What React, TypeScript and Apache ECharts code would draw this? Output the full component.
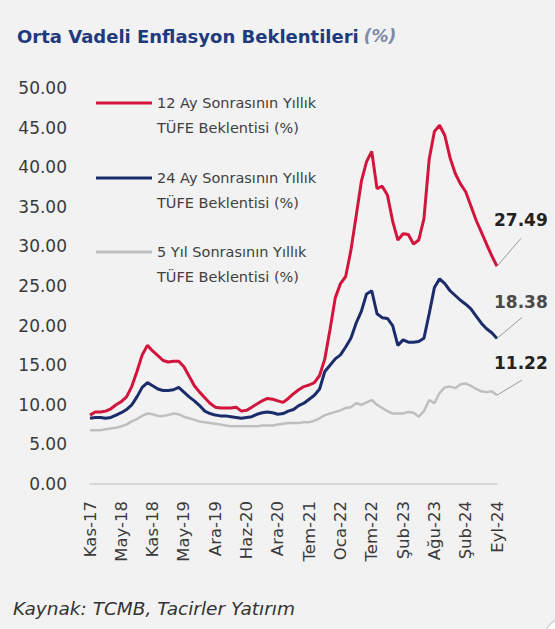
import React, { useEffect, useRef } from "react";
import * as echarts from "echarts";

const tickLabels = ["Kas-17", "May-18", "Kas-18", "May-19", "Ara-19", "Haz-20", "Ara-20", "Tem-21", "Oca-22", "Tem-22", "Şub-23", "Ağu-23", "Şub-24", "Eyl-24"];
const pointsPerTick = 6;
const categories = Array.from({ length: (tickLabels.length - 1) * pointsPerTick + 1 }, (_, i) => String(i));

const seriesNames = [
  "12 Ay Sonrasının Yıllık\nTÜFE Beklentisi (%)",
  "24 Ay Sonrasının Yıllık\nTÜFE Beklentisi (%)",
  "5 Yıl Sonrasının Yıllık\nTÜFE Beklentisi (%)",
];

const exp12m = [
  8.7, 9.1, 9.1, 9.2, 9.5, 10.0, 10.4, 11.0, 12.3, 14.2, 16.3, 17.5, 16.8, 16.2, 15.6, 15.4, 15.5, 15.5, 14.8, 13.6,
  12.4, 11.6, 10.9, 10.2, 9.7, 9.6, 9.6, 9.6, 9.7, 9.2, 9.3, 9.7, 10.1, 10.5, 10.8, 10.7, 10.5, 10.3, 10.8, 11.4,
  11.9, 12.3, 12.5, 12.8, 13.7, 15.8, 19.5, 23.5, 25.3, 26.2, 29.5, 33.8, 38.2, 40.7, 42.0, 37.3, 37.6, 36.5, 33.2, 30.8,
  31.6, 31.5, 30.3, 30.8, 33.5, 41.0, 44.5, 45.3, 44.0, 41.2, 39.2, 37.9, 36.9, 35.1, 33.3, 31.8, 30.3, 28.8, 27.49,
];
const exp24m = [
  8.3, 8.4, 8.4, 8.3, 8.4, 8.7, 9.0, 9.4, 10.0, 11.0, 12.2, 12.8, 12.4, 12.0, 11.8, 11.8, 11.9, 12.2, 11.6, 11.0,
  10.5, 9.9, 9.2, 8.9, 8.7, 8.6, 8.6, 8.5, 8.4, 8.3, 8.4, 8.5, 8.8, 9.0, 9.1, 9.0, 8.8, 8.9, 9.2, 9.4,
  9.9, 10.2, 10.7, 11.2, 12.0, 14.2, 15.0, 15.8, 16.3, 17.3, 18.4, 20.3, 21.8, 24.0, 24.4, 21.5, 21.0, 20.9, 20.0, 17.5,
  18.2, 17.9, 17.9, 18.0, 18.4, 21.5, 24.8, 25.9, 25.3, 24.4, 23.8, 23.2, 22.7, 22.1, 21.2, 20.3, 19.6, 19.1, 18.38,
];
const exp5y = [
  6.8, 6.8, 6.8, 6.9, 7.0, 7.1, 7.3, 7.5, 7.9, 8.2, 8.6, 8.9, 8.8, 8.6, 8.6, 8.7, 8.9, 8.8, 8.5, 8.3,
  8.1, 7.9, 7.8, 7.7, 7.6, 7.5, 7.4, 7.3, 7.3, 7.3, 7.3, 7.3, 7.3, 7.4, 7.4, 7.4, 7.5, 7.6, 7.7, 7.7,
  7.7, 7.8, 7.8, 8.0, 8.3, 8.7, 8.9, 9.1, 9.3, 9.6, 9.7, 10.2, 10.0, 10.3, 10.6, 10.0, 9.6, 9.2, 8.9, 8.9,
  8.9, 9.1, 9.0, 8.5, 9.2, 10.6, 10.2, 11.5, 12.2, 12.3, 12.1, 12.6, 12.7, 12.4, 12.0, 11.7, 11.6, 11.7, 11.22,
];

const colors = ["#d3143c", "#1b2c6b", "#bfbfbf"];
const endLabelColors = ["#222222", "#4a4a4a", "#222222"];
const BG = "#f2f2f2";
const FONT = '"DejaVu Sans", sans-serif';

export default function App() {
  const ref = useRef<HTMLDivElement>(null);
  useEffect(() => {
    if (!ref.current) return;
    const chart = echarts.init(ref.current, undefined, { renderer: "svg" });
    const allSeries = [exp12m, exp24m, exp5y];
    const legendTops = [103, 178, 252];
    // label / leader offsets relative to each series' last point
    const labelDy = [-46, -36, -32];
    const leaderEnd = [
      [24, -28],
      [25, -21],
      [25, -15],
    ];

    const staticGraphics: any[] = [
      ...legendTops.flatMap((y, k) => [
        {
          type: "line",
          shape: { x1: 96, y1: y, x2: 152, y2: y },
          style: { stroke: colors[k], lineWidth: 3 },
        },
        {
          type: "text",
          x: 157,
          y: y - 12.5,
          style: {
            text: seriesNames[k],
            fontFamily: FONT,
            fontSize: 14.5,
            lineHeight: 25,
            fill: "#404040",
            verticalAlign: "top",
          },
        },
      ]),
      {
        type: "text",
        x: 13,
        y: 608,
        style: {
          text: "Kaynak: TCMB, Tacirler Yatırım",
          fontFamily: FONT,
          fontStyle: "italic",
          fontSize: 18.5,
          fill: "#333333",
          verticalAlign: "middle",
        },
      },
      {
        type: "circle",
        shape: { cx: 572, cy: 645, r: 30 },
        style: { fill: "#ffffff", stroke: "#d6d6d6", lineWidth: 1.5 },
      },
    ];

    chart.setOption({
      animation: false,
      backgroundColor: BG,
      title: {
        left: 12,
        top: 22,
        text: "{a|Orta Vadeli Enflasyon Beklentileri} {b|(%)}",
        textStyle: {
          rich: {
            a: { fontFamily: FONT, fontWeight: "bold", fontSize: 18, color: "#1f3a7d" },
            b: { fontFamily: FONT, fontStyle: "italic", fontSize: 17, color: "#7d8aa8" },
          },
        },
      },
      grid: { left: 90, right: 58, top: 88, bottom: 145 },
      xAxis: {
        type: "category",
        data: categories,
        boundaryGap: false,
        axisLine: { show: true, lineStyle: { color: "#cfcfcf", width: 1.5 } },
        axisTick: { show: false },
        axisLabel: {
          interval: pointsPerTick - 1,
          rotate: 90,
          margin: 17,
          fontFamily: FONT,
          fontSize: 16.5,
          color: "#3a3a3a",
          formatter: (val: string) => tickLabels[Number(val) / pointsPerTick] ?? "",
        },
        splitLine: { show: false },
      },
      yAxis: {
        type: "value",
        min: 0,
        max: 50,
        interval: 5,
        axisLine: { show: false },
        axisTick: { show: false },
        splitLine: { show: false },
        axisLabel: {
          margin: 23,
          fontFamily: FONT,
          fontSize: 17,
          color: "#3a3a3a",
          formatter: (v: number) => v.toFixed(2),
        },
      },
      series: allSeries.map((vals, k) => ({
        name: seriesNames[k],
        type: "line",
        data: vals,
        symbol: "none",
        silent: true,
        z: 10 - k,
        lineStyle: { color: colors[k], width: k === 2 ? 2.5 : 3 },
        itemStyle: { color: colors[k] },
      })),
      graphic: staticGraphics,
    });

    const lastIdx = categories.length - 1;
    const endGraphics: any[] = [];
    allSeries.forEach((vals, k) => {
      const v = vals[lastIdx];
      const p = chart.convertToPixel({ xAxisIndex: 0, yAxisIndex: 0 }, [lastIdx, v]) as number[];
      if (!p) return;
      const [px, py] = p;
      endGraphics.push({
        type: "line",
        shape: { x1: px, y1: py, x2: px + leaderEnd[k][0], y2: py + leaderEnd[k][1] },
        style: { stroke: "#9a9a9a", lineWidth: 1 },
        z: 20,
      });
      endGraphics.push({
        type: "text",
        x: px - 3,
        y: py + labelDy[k],
        style: {
          text: v.toFixed(2),
          fontFamily: FONT,
          fontWeight: "bold",
          fontSize: 17,
          fill: endLabelColors[k],
          verticalAlign: "middle",
        },
        z: 20,
      });
    });
    chart.setOption({ graphic: [...staticGraphics, ...endGraphics] });

    return () => chart.dispose();
  }, []);
  return (
    <div
      ref={ref}
      style={{ position: "fixed", left: 0, top: 0, width: 555, height: 629, background: BG }}
    />
  );
}
